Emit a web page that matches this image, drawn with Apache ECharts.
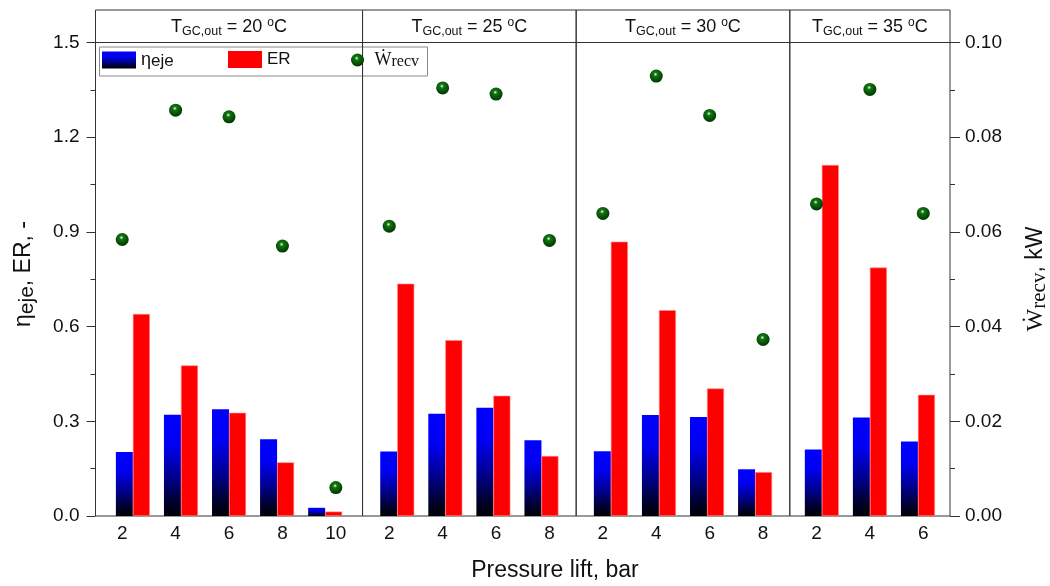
<!DOCTYPE html>
<html>
<head>
<meta charset="utf-8">
<script src="https://cdn.jsdelivr.net/npm/echarts@6/dist/echarts.min.js"></script>
<style>
  html, body { margin: 0; padding: 0; background: #fff; }
  #chart { width: 1050px; height: 586px; }
</style>
</head>
<body>
<div id="chart"></div>
<script>
// Gas-cooler outlet temperature of each panel (°C)
const gcOutletTemps = ['20', '25', '30', '35'];
// Pressure lift categories per panel (bar)
const pressureLift = [
  [2, 4, 6, 8, 10],
  [2, 4, 6, 8],
  [2, 4, 6, 8],
  [2, 4, 6]
];
// Ejector efficiency η_eje (-)
const etaEje = [
  [0.203, 0.321, 0.338, 0.243, 0.026],
  [0.204, 0.324, 0.343, 0.240],
  [0.205, 0.320, 0.314, 0.148],
  [0.211, 0.312, 0.236]
];
// Entrainment ratio ER (-)
const entrainRatio = [
  [0.640, 0.477, 0.327, 0.170, 0.014],
  [0.736, 0.557, 0.381, 0.190],
  [0.869, 0.652, 0.404, 0.139],
  [1.112, 0.787, 0.384]
];
// Recovered work W_recv (kW)
const wRecv = [
  [0.0584, 0.0857, 0.0843, 0.0570, 0.0060],
  [0.0612, 0.0904, 0.0891, 0.0582],
  [0.0639, 0.0929, 0.0846, 0.0373],
  [0.0659, 0.0901, 0.0639]
];
// Axis ranges and tick steps
const leftAxis = { min: 0, max: 1.5, interval: 0.3 };
const rightAxis = { min: 0, max: 0.10, interval: 0.02 };

// ---- layout ----
const FRAME = { left: 95.5, right: 950, top: 10, headerBottom: 42.5, bottom: 516 };
const FONT = '"Liberation Sans", Arial, sans-serif';
const SERIF = '"Liberation Serif", "DejaVu Serif", serif';
const LINE = '#333';
const groupPitch = 0.9;   // bar groups sit a little tighter than the tick slots

const slotTotal = pressureLift.reduce((s, a) => s + a.length, 0);
const slot = (FRAME.right - FRAME.left) / slotTotal;

const etaGradient = new echarts.graphic.LinearGradient(0, 0, 0, 1, [
  { offset: 0, color: '#0000ff' },
  { offset: 0.3, color: '#0000f2' },
  { offset: 0.62, color: '#00008c' },
  { offset: 0.88, color: '#000025' },
  { offset: 1, color: '#000008' }
]);
const sphere = new echarts.graphic.RadialGradient(0.44, 0.36, 0.62, [
  { offset: 0, color: '#ffffff' },
  { offset: 0.09, color: '#9fcf9f' },
  { offset: 0.24, color: '#157515' },
  { offset: 0.6, color: '#075a07' },
  { offset: 1, color: '#033603' }
]);

const grids = [], xAxes = [], yAxes = [], series = [], graphics = [];
let offset = 0;
pressureLift.forEach((lifts, i) => {
  const n = lifts.length;
  const left = FRAME.left + offset * slot;
  const width = n * slot;
  offset += n;

  grids.push({
    left: left, width: width,
    top: FRAME.headerBottom, height: FRAME.bottom - FRAME.headerBottom,
    show: true, borderColor: LINE, borderWidth: 1, backgroundColor: 'transparent'
  });

  // category axis: tick labels and scatter positions
  xAxes.push({
    type: 'category', gridIndex: i, data: lifts.map(String), boundaryGap: true,
    axisLine: { show: false }, axisTick: { show: false }, splitLine: { show: false },
    axisLabel: { fontFamily: FONT, fontSize: 19, color: '#111', margin: 8 }
  });
  // value axis for the bar groups
  const step = lifts[1] - lifts[0];
  const centre = (lifts[0] + lifts[n - 1]) / 2;
  const half = (n / 2) * step / groupPitch;
  xAxes.push({ type: 'value', gridIndex: i, min: centre - half, max: centre + half, show: false });

  const showLeft = i === 0;
  const showRight = i === pressureLift.length - 1;
  yAxes.push({
    type: 'value', gridIndex: i, position: 'left',
    min: leftAxis.min, max: leftAxis.max, interval: leftAxis.interval,
    show: showLeft,
    axisLine: { show: false },
    axisTick: { show: true, length: 9, lineStyle: { color: LINE, width: 1 } },
    minorTick: { show: true, splitNumber: 2, length: 5, lineStyle: { color: LINE, width: 1 } },
    splitLine: { show: false }, minorSplitLine: { show: false },
    axisLabel: { fontFamily: FONT, fontSize: 19, color: '#111', margin: 16,
      formatter: v => v.toFixed(1) }
  });
  yAxes.push({
    type: 'value', gridIndex: i, position: 'right',
    min: rightAxis.min, max: rightAxis.max, interval: rightAxis.interval,
    show: showRight,
    axisLine: { show: false },
    axisTick: { show: true, length: 10, lineStyle: { color: LINE, width: 1 } },
    minorTick: { show: true, splitNumber: 2, length: 5, lineStyle: { color: LINE, width: 1 } },
    splitLine: { show: false }, minorSplitLine: { show: false },
    axisLabel: { fontFamily: FONT, fontSize: 19, color: '#111', margin: 15,
      formatter: v => v.toFixed(2) }
  });

  series.push({
    name: 'eta', type: 'bar', xAxisIndex: 2 * i + 1, yAxisIndex: 2 * i,
    barWidth: 17, barGap: '0%',
    itemStyle: { color: etaGradient },
    data: lifts.map((x, k) => [x, etaEje[i][k]])
  });
  series.push({
    name: 'ER', type: 'bar', xAxisIndex: 2 * i + 1, yAxisIndex: 2 * i,
    barWidth: 17, barGap: '0%',
    itemStyle: { color: '#ff0000', borderColor: '#ff8c8c', borderWidth: 0.6 },
    data: lifts.map((x, k) => [x, entrainRatio[i][k]])
  });
  series.push({
    name: 'W', type: 'scatter', xAxisIndex: 2 * i, yAxisIndex: 2 * i + 1,
    symbol: 'circle', symbolSize: 13, z: 5,
    itemStyle: { color: sphere, opacity: 1 },
    data: wRecv[i]
  });

  // header strip with the panel temperature
  graphics.push({
    type: 'rect', silent: true,
    shape: { x: left, y: FRAME.top, width: width, height: FRAME.headerBottom - FRAME.top },
    style: { fill: 'none', stroke: LINE, lineWidth: 1 }
  });
  graphics.push({
    type: 'text', silent: true, x: left + width / 2, y: (FRAME.top + FRAME.headerBottom) / 2 + 1,
    style: {
      text: '{n|T}{s|GC,out}{n| = ' + gcOutletTemps[i] + ' }{u|o}{n|C}',
      align: 'center', verticalAlign: 'middle',
      rich: {
        n: { fontFamily: FONT, fontSize: 18, lineHeight: 22, fill: '#111', verticalAlign: 'middle' },
        s: { fontFamily: FONT, fontSize: 12.5, lineHeight: 12, fill: '#111', verticalAlign: 'bottom' },
        u: { fontFamily: FONT, fontSize: 12, lineHeight: 14, fill: '#111', verticalAlign: 'top' }
      }
    }
  });
});

// legend frame
graphics.push({
  type: 'rect', silent: true,
  shape: { x: 99.5, y: 47, width: 328, height: 29 },
  style: { fill: '#fff', stroke: '#8a8a8a', lineWidth: 1 },
  z: -1
});
// axis titles
graphics.push({
  type: 'text', silent: true, x: 24, y: 274, rotation: Math.PI / 2,
  style: {
    text: '{a|η}{b|eje}{a|, ER, -}', align: 'center', verticalAlign: 'middle',
    rich: {
      a: { fontFamily: FONT, fontSize: 23, lineHeight: 28, fill: '#111', verticalAlign: 'middle' },
      b: { fontFamily: FONT, fontSize: 21, lineHeight: 22, fill: '#111', verticalAlign: 'bottom' }
    }
  }
});
graphics.push({
  type: 'text', silent: true, x: 1036, y: 279, rotation: Math.PI / 2,
  style: {
    text: '{w|Ẇ}{r|recv}{a|, kW}', align: 'center', verticalAlign: 'middle',
    rich: {
      w: { fontFamily: SERIF, fontSize: 24, lineHeight: 28, fill: '#111', verticalAlign: 'middle' },
      r: { fontFamily: SERIF, fontSize: 21, lineHeight: 22, fill: '#111', verticalAlign: 'bottom' },
      a: { fontFamily: FONT, fontSize: 23, lineHeight: 28, fill: '#111', verticalAlign: 'middle' }
    }
  }
});
graphics.push({
  type: 'text', silent: true, x: 555, y: 571,
  style: { text: 'Pressure lift, bar', align: 'center', verticalAlign: 'middle',
    fontFamily: FONT, fontSize: 23, fill: '#111' }
});

const legendText = {
  fontFamily: FONT, fontSize: 17, color: '#111',
  rich: {
    g: { fontFamily: FONT, fontSize: 18, color: '#111', lineHeight: 20, verticalAlign: 'middle' },
    e: { fontFamily: FONT, fontSize: 17, color: '#111', lineHeight: 16, verticalAlign: 'bottom' },
    w: { fontFamily: SERIF, fontSize: 18, color: '#111', lineHeight: 20, verticalAlign: 'middle' },
    r: { fontFamily: SERIF, fontSize: 16, color: '#111', lineHeight: 14, verticalAlign: 'bottom' }
  }
};
const legendNames = { eta: '{g|η}{e|eje}', ER: 'ER', W: '{w|Ẇ}{r|recv}' };

const chart = echarts.init(document.getElementById('chart'), null, { renderer: 'canvas' });
chart.setOption({
  animation: false,
  backgroundColor: '#fff',
  grid: grids,
  xAxis: xAxes,
  yAxis: yAxes,
  legend: [
    { data: [{ name: 'eta', icon: 'rect' }], left: 102, top: 51, padding: 0, itemWidth: 34, itemHeight: 17,
      itemGap: 0, selectedMode: false, itemStyle: { borderWidth: 0 },
      textStyle: legendText, formatter: nm => legendNames[nm] },
    { data: [{ name: 'ER', icon: 'rect' }], left: 228, top: 51, padding: 0, itemWidth: 34, itemHeight: 17,
      itemGap: 0, selectedMode: false, itemStyle: { borderWidth: 0 },
      textStyle: legendText, formatter: nm => legendNames[nm] },
    { data: [{ name: 'W', icon: 'circle' }], left: 351, top: 51, padding: 0, itemWidth: 24, itemHeight: 13,
      itemGap: 0, selectedMode: false, itemStyle: { opacity: 1 },
      textStyle: legendText, formatter: nm => legendNames[nm] }
  ],
  graphic: graphics,
  series: series
});
</script>
</body>
</html>
